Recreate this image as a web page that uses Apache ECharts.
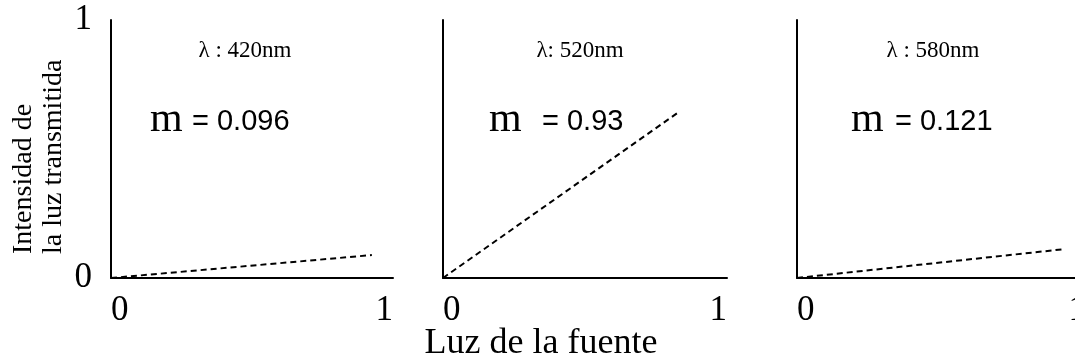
<!DOCTYPE html>
<html>
<head>
<meta charset="utf-8">
<script src="https://cdn.jsdelivr.net/npm/echarts@6/dist/echarts.min.js"></script>
<style>
  html, body { margin: 0; padding: 0; background: #fff; }
  #chart { width: 1075px; height: 360px; }
</style>
</head>
<body>
<div id="chart"></div>
<script>
// Wavelength of each panel (nm)
const wavelengths = ['420', '520', '580'];
// Separator text used in each panel heading
const headingSeparators = [' : ', ': ', ' : '];
// Slope m of the transmitted-light line in each panel
const slopes = [0.096, 0.93, 0.121];
const slopeTexts = ['0.096', '0.93', '0.121'];
// Source-light value where each dashed line ends
const lineEndX = [0.925, 0.835, 0.92];
// Upper limit of each panel's transmitted-light scale (only the first panel is labelled)
const yMaxValues = [1, 1.2, 1];
// Axis tick values of the labelled axes
const tickValues = [0, 1];
// Axis titles
const xTitle = 'Luz de la fuente';
const yTitle = 'Intensidad de\nla luz transmitida';

const SERIF = '"Liberation Serif", "DejaVu Serif", serif';
const SANS = '"Liberation Sans", Arial, sans-serif';

// Layout of the three small panels
const gridLayout = [
  { left: 111, width: 282 },
  { left: 443, width: 284 },
  { left: 797, width: 289 }
];
const GRID_TOP = 20;
const GRID_HEIGHT = 258;
// Annotation anchors per panel
const headingX = [245, 580, 933];
const mX = [150, 489, 851];
const valueX = [192, 542, 895];

const chart = echarts.init(document.getElementById('chart'), null, { renderer: 'canvas' });

const axisLineStyle = { show: true, lineStyle: { color: '#000', width: 2 } };
const tickMin = tickValues[0];
const tickMax = tickValues[tickValues.length - 1];

const grids = gridLayout.map(g => ({
  left: g.left, width: g.width, top: GRID_TOP, height: GRID_HEIGHT,
  containLabel: false, outerBoundsMode: 'none'
}));

const xAxes = gridLayout.map((g, i) => ({
  type: 'value', gridIndex: i, min: tickMin, max: tickMax, interval: tickMax - tickMin,
  axisLine: axisLineStyle, axisTick: { show: false }, splitLine: { show: false },
  axisLabel: {
    show: true, color: '#000', fontFamily: SERIF, fontSize: 35, margin: 15,
    alignMinLabel: 'left', alignMaxLabel: 'right'
  }
}));

const yAxes = gridLayout.map((g, i) => ({
  type: 'value', gridIndex: i, min: tickMin, max: yMaxValues[i], interval: yMaxValues[i] - tickMin,
  axisLine: axisLineStyle, axisTick: { show: false }, splitLine: { show: false },
  axisLabel: {
    show: i === 0, color: '#000', fontFamily: SERIF, fontSize: 35, margin: 19,
    padding: [6, 0, 0, 0]
  }
}));

// Each dashed line runs from the origin with the panel's slope m
const series = slopes.map((m, i) => ({
  type: 'line', xAxisIndex: i, yAxisIndex: i,
  data: [[0, 0], [lineEndX[i], m * lineEndX[i]]],
  symbol: 'none', silent: true, animation: false,
  lineStyle: { color: '#000', width: 2, type: [6, 4] }
}));

const graphics = [];
wavelengths.forEach((w, i) => {
  graphics.push({
    type: 'text', x: headingX[i], y: 51, silent: true,
    style: { text: '\u03bb' + headingSeparators[i] + w + 'nm', font: '23px ' + SERIF,
             fill: '#000', align: 'center', verticalAlign: 'middle' }
  });
  graphics.push({
    type: 'text', x: mX[i], y: 120, silent: true,
    style: { text: 'm', font: '42px ' + SERIF, fill: '#000', align: 'left', verticalAlign: 'middle' }
  });
  graphics.push({
    type: 'text', x: valueX[i], y: 122, silent: true,
    style: { text: '= ' + slopeTexts[i], font: '29px ' + SANS, fill: '#000', align: 'left', verticalAlign: 'middle' }
  });
});
// Shared x-axis title under the middle panel
graphics.push({
  type: 'text', x: 541, y: 344, silent: true,
  style: { text: xTitle, font: '36px ' + SERIF, fill: '#000', align: 'center', verticalAlign: 'middle' }
});
// Rotated y-axis title on the left
graphics.push({
  type: 'text', x: 9, y: 254, rotation: Math.PI / 2, silent: true,
  style: { text: yTitle, font: '28px ' + SERIF, lineHeight: 30, fill: '#000', align: 'left', verticalAlign: 'top' }
});

chart.setOption({
  animation: false,
  backgroundColor: '#fff',
  grid: grids,
  xAxis: xAxes,
  yAxis: yAxes,
  series: series,
  graphic: graphics
});
</script>
</body>
</html>
